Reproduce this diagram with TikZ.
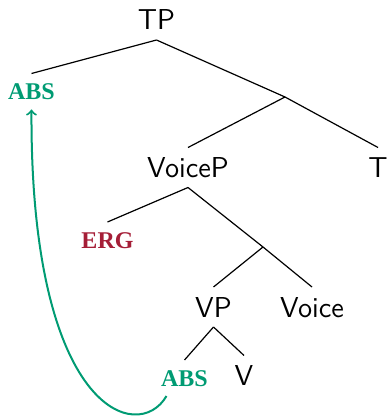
\documentclass[tikz,border=0pt]{standalone}
\usepackage{fontspec}
\newfontfamily\glossfont{Liberation Serif}
\definecolor{absgreen}{RGB}{0,155,115}
\definecolor{ergred}{RGB}{165,30,55}
\begin{document}
\begin{tikzpicture}[x=0.5pt,y=-0.5pt,
  cat/.style={font=\sffamily\fontsize{14.4}{17}\selectfont, text height=10pt, text depth=0pt, inner xsep=2pt, inner ysep=5pt, outer sep=0pt},
  gloss/.style={font=\glossfont\bfseries\fontsize{12}{14}\selectfont, text height=8pt, text depth=0pt, inner xsep=5pt, inner ysep=5pt, outer sep=0pt},
  branch/.style={line width=0.6pt},
  move/.style={absgreen, line width=1pt, ->}]
\useasboundingbox (0,0) rectangle (386,416);
\node[cat] (TP) at (156.5,20) {TP};
\node[gloss, text=absgreen] (abs1) at (31.5,91.5) {ABS};
\coordinate (b1) at (285,97);
\node[cat] (VoiceP) at (188,167.5) {VoiceP};
\node[cat] (T) at (378,167.5) {T};
\node[gloss, text=ergred] (erg) at (107.5,240) {ERG};
\coordinate (b2) at (263,247);
\node[cat] (VP) at (213.5,307) {VP};
\node[cat] (Voice) at (312,307) {Voice};
\node[gloss, text=absgreen] (abs2) at (184.5,378) {ABS};
\node[cat] (V) at (244,375.5) {V};
\draw[branch] (TP.south) -- (abs1.north);
\draw[branch] (TP.south) -- (b1);
\draw[branch] (b1) -- (VoiceP.north);
\draw[branch] (b1) -- (T.north);
\draw[branch] (VoiceP.south) -- (erg.north);
\draw[branch] (VoiceP.south) -- (b2);
\draw[branch] (b2) -- (VP.north);
\draw[branch] (b2) -- (Voice.north);
\draw[branch] (VP.south) -- (abs2.north);
\draw[branch] (VP.south) -- (V.north);
\draw[move] ([xshift=-9pt]abs2.south) .. controls (138,445) and (30,412) .. (abs1.south);
\end{tikzpicture}
\end{document}
